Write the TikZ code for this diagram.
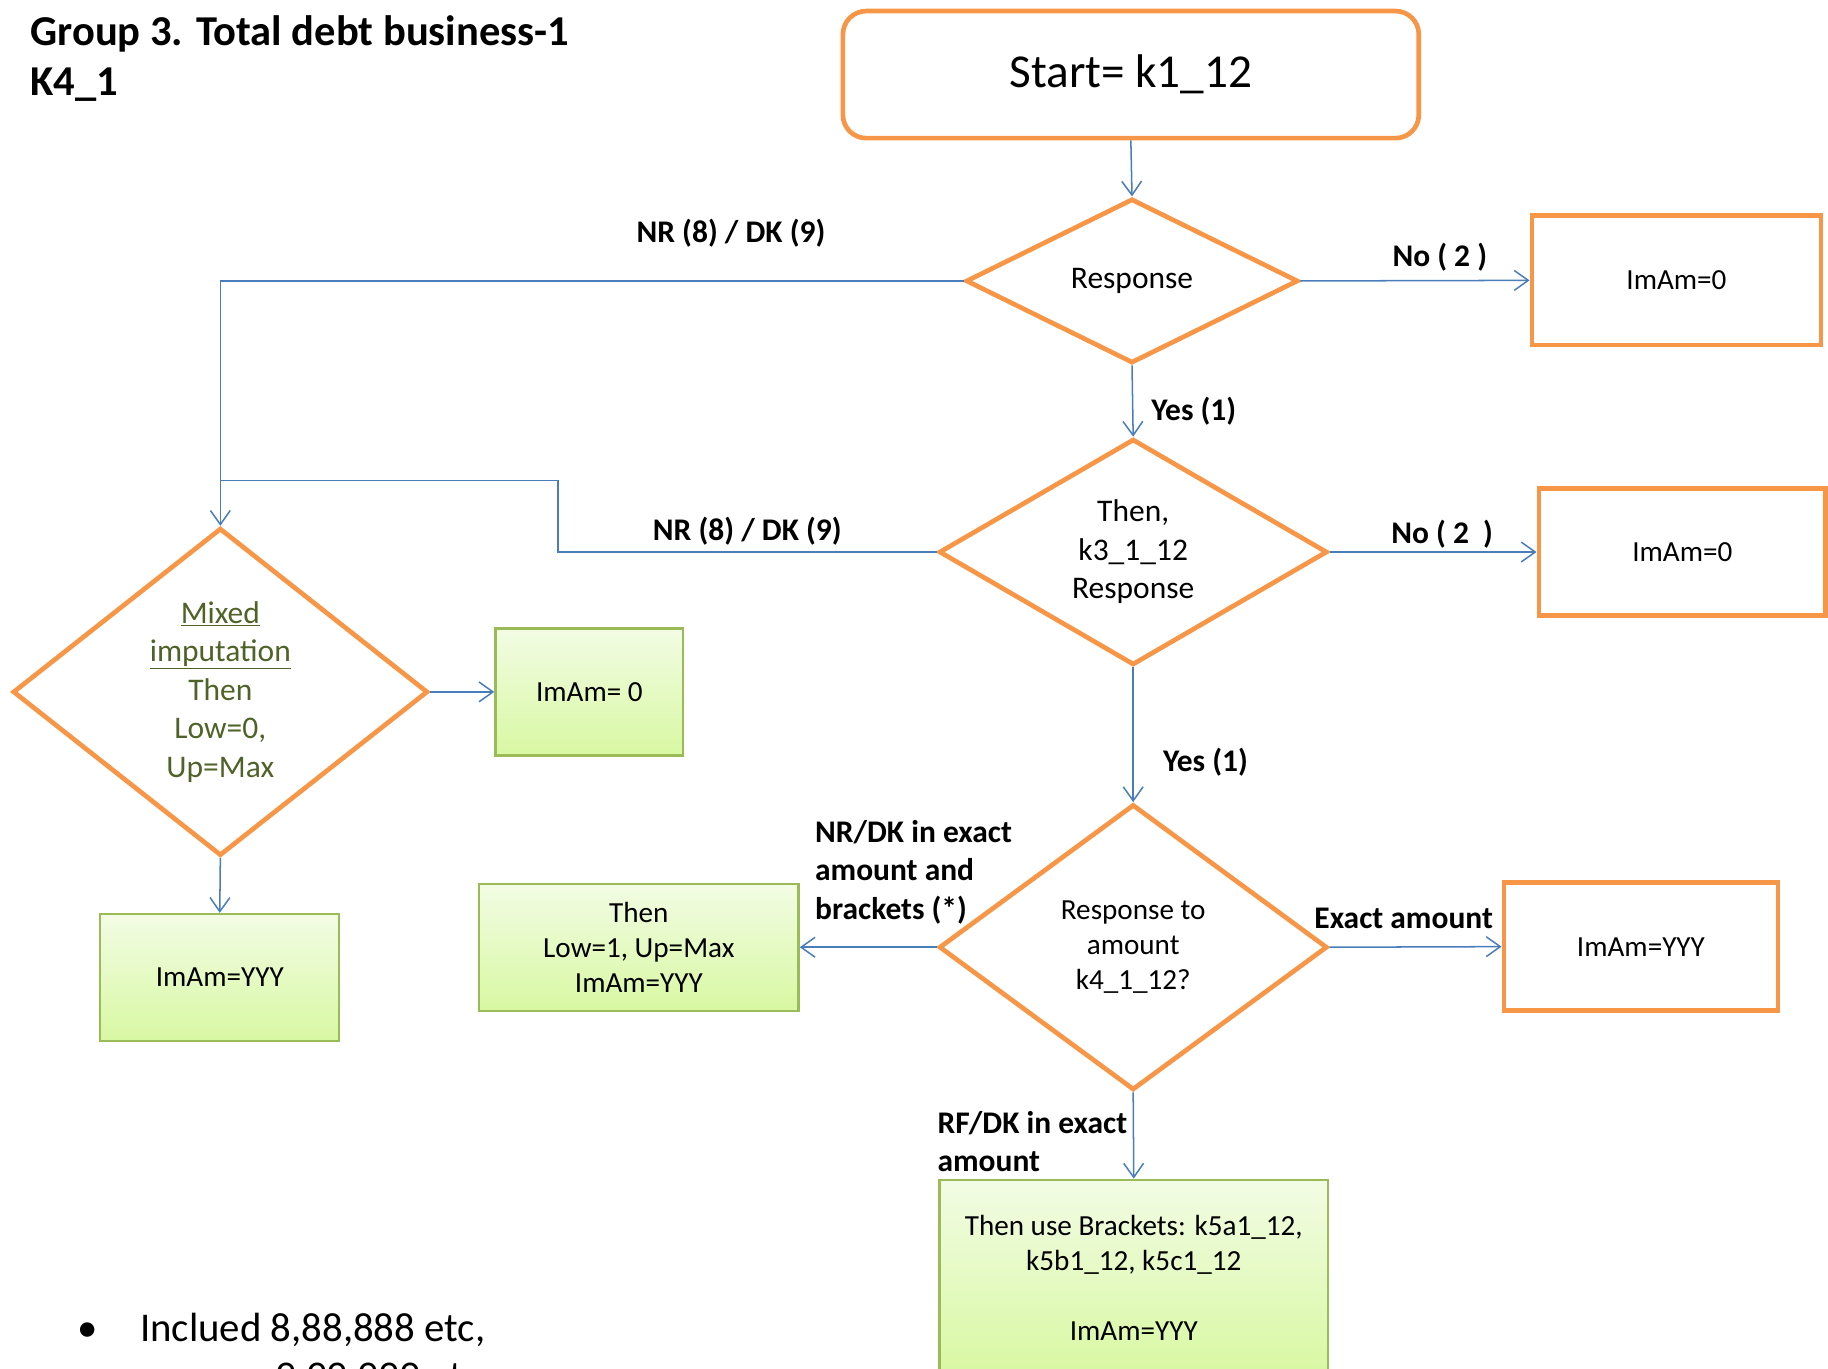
\documentclass[tikz,border=0pt]{standalone}
\usepackage{fontspec}
\setmainfont{Carlito}
\usetikzlibrary{shapes.geometric,arrows.meta}
\definecolor{orng}{HTML}{F79646}
\definecolor{blu}{HTML}{4A7EBB}
\definecolor{gborder}{HTML}{9BBB59}
\definecolor{gtop}{HTML}{F2FCE4}
\definecolor{gbot}{HTML}{D8F8A2}
\definecolor{olive}{HTML}{4F6228}
\newcommand\fsz[2]{\fontsize{#1}{#2}\selectfont}
\begin{document}
\begin{tikzpicture}[x=1pt,y=-1pt,
  obox/.style={draw=orng, line width=4pt, rectangle, inner sep=0pt, align=center, font=\fsz{25}{30}},
  gbox/.style={draw=gborder, line width=2pt, rectangle, inner sep=0pt, align=center, top color=gtop, bottom color=gbot, font=\fsz{25}{30}},
  dia/.style={draw=orng, line width=4pt, diamond, inner sep=0pt, align=center, font=\fsz{25}{30}, line join=miter},
  arr/.style={draw=blu, line width=1.3pt, -{Straight Barb[length=12pt,width=17pt]}},
  ln/.style={draw=blu, line width=1.3pt},
  lbl/.style={font=\bfseries\fsz{27}{33}, inner sep=0pt}
]
\useasboundingbox (0,0) rectangle (1568,1174);

% title
\node[anchor=west, inner sep=0pt, font=\bfseries\fsz{36.5}{44}] (t1) at (26,29) {Group 3. Total debt business-1};
\node[anchor=west, inner sep=0pt, font=\bfseries\fsz{36.5}{44}] (t2) at (26,73) {K4\_1};

% nodes
\node[obox, rounded corners=20pt, minimum width=494pt, minimum height=109pt, font=\fsz{40.5}{48}] (start) at (970,64) {Start= k1\_12};
\node[dia, minimum width=285pt, minimum height=141pt, font=\fsz{27}{33}] (d1) at (971,241) {Response};
\node[obox, minimum width=248pt, minimum height=111pt] (b1) at (1438,240.5) {ImAm=0};
\node[dia, minimum width=333pt, minimum height=187pt, font=\fsz{27}{33}] (d2) at (972,473.5) {Then,\\k3\_1\_12\\Response};
\node[obox, minimum width=246pt, minimum height=109pt] (b2) at (1443,473.5) {ImAm=0};
\node[dia, minimum width=356pt, minimum height=281pt, text=olive, font=\fsz{27}{33}] (d3) at (189,593.5) {\underline{Mixed}\\\underline{imputation}\\Then\\Low=0,\\Up=Max};
\node[gbox, minimum width=161pt, minimum height=109pt] (g1) at (505.5,593.5) {ImAm= 0};
\node[gbox, minimum width=205pt, minimum height=109pt] (g2) at (188.5,838.5) {ImAm=YYY};
\node[dia, minimum width=333pt, minimum height=245pt] (d4) at (972,812.5) {Response to\\amount\\k4\_1\_12?};
\node[gbox, minimum width=274pt, minimum height=109pt] (g3) at (548,812.5) {Then\\Low=1, Up=Max\\ImAm=YYY};
\node[obox, minimum width=235pt, minimum height=110pt] (b3) at (1407.5,812) {ImAm=YYY};
\node[gbox, minimum width=333pt, minimum height=168pt] (g4) at (972.5,1096) {Then use Brackets: k5a1\_12,\\k5b1\_12, k5c1\_12\\[30pt]ImAm=YYY};

% connectors
\draw[arr] (start.south) -- (d1.north);
\draw[arr] (d1.east) -- (b1.west);
\draw[arr] (d1.west) -| (d3.north);
\draw[arr] (d1.south) -- (d2.north);
\draw[arr] (d2.east) -- (b2.west);
\coordinate (j) at (189,412);
\draw[ln] (d2.west) -- ++(-325,0) |- (j);
\draw[arr] (d3.east) -- (g1.west);
\draw[arr] (d3.south) -- (g2.north);
\draw[arr] (d2.south) -- (d4.north);
\draw[arr] (d4.west) -- (g3.east);
\draw[arr] (d4.east) -- (b3.west);
\draw[arr] (d4.south) -- (g4.north);

% labels
\node[lbl] (l1) at (627,200) {NR (8) / DK (9)};
\node[lbl] (l2) at (1235,221) {No ( 2 )};
\node[lbl] (l3) at (1024,353) {Yes (1)};
\node[lbl] (l4) at (641,456) {NR (8) / DK (9)};
\node[lbl] (l5) at (1237,458) {No ( 2\ \ )};
\node[lbl] (l6) at (1034,654) {Yes (1)};
\node[lbl, anchor=west, align=left] (l7) at (699,748) {NR/DK in exact\\amount and\\brackets (*)};
\node[lbl] (l8) at (1204,788) {Exact amount};
\node[lbl, anchor=west, align=left] (l9) at (804,979) {RF/DK in exact\\amount};

% bullet
\node[anchor=base west, inner sep=0pt, font=\fsz{35}{41}] (bul) at (66,1151) {•};
\node[anchor=base west, inner sep=0pt, font=\fsz{35}{41}] (btxt) at (120,1151) {Inclued 8,88,888 etc,};
\node[anchor=base west, inner sep=0pt, font=\fsz{35}{41}] (btxt2) at (236,1192) {9,99,999 etc};
\end{tikzpicture}
\end{document}
